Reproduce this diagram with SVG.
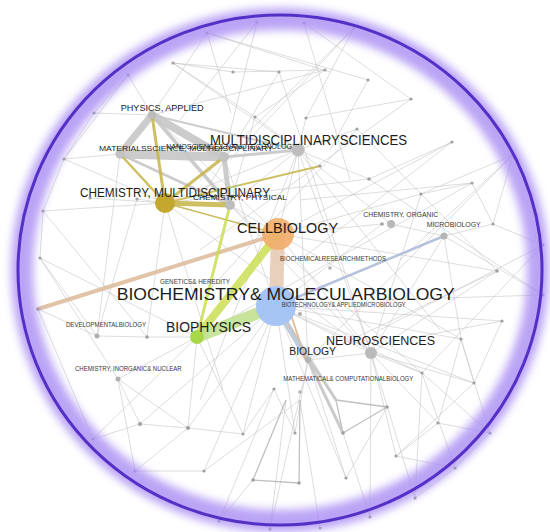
<svg xmlns="http://www.w3.org/2000/svg" width="550" height="532" viewBox="0 0 550 532">
<style>
.e{stroke:#bdbdbd;stroke-width:.7;fill:none;opacity:.75}
.g{stroke:#c6c6c6;fill:none;stroke-linecap:round;opacity:.9}
.n{fill:#a0a0a0}
.lb{font-family:"Liberation Sans",Arial,sans-serif;fill:#1c1c1c}
.sm{font-size:6.6px;fill:#383838}
</style>
<defs>
<filter id="soft" x="-10%" y="-10%" width="120%" height="120%"><feGaussianBlur stdDeviation="4"/></filter>
</defs>
<rect width="550" height="532" fill="#ffffff"/>

<!-- links -->
<g id="connectors">
<g id="thin-links">
<path class="e" d="M207 33L368 80M207 33L330 72M207 33L152 115M207 33L231 113M173 63L279 72M173 63L233 72M173 63L255 117M173 63L298 150M257 22L180 120M257 22L224 157M304 23L411 99M304 23L350 180M354 28L230 160M354 28L200 180M354 28L306 118M128 75L94 113M128 75L152 115M128 75L64 159M233 72L325 70M279 72L200 200M279 72L371 353M325 70L255 117M325 70L152 115M368 80L330 150M411 99L306 118M411 99L200 250M94 113L152 115M94 113L64 159M306 118L298 150M255 117L298 150M255 117L230 205"/>
<path class="e" d="M357 129L200 300M357 129L298 150M452 142L369 179M452 142L300 260M513 155L421 194M513 155L400 260M513 155L493 224M369 179L298 150M369 179L165 203M421 194L278 234M421 194L472 183M472 183L300 200M472 183L493 224M493 224L444 236M493 224L543 245M543 245L380 330M497 271L278 234M497 271L371 353M502 321L400 340M502 321L474 383M543 295L380 300M543 295L444 236"/>
<path class="e" d="M64 159L43 211M64 159L120 154M43 211L40 258M43 211L165 203M40 258L118 379M40 258L97 336M38 309L97 336M38 309L93 439M90 198L165 203M137 199L165 203M137 199L97 336M97 336L147 337M147 337L197 337M147 337L165 203M118 379L197 337M118 379L140 424M118 379L188 428"/>
<path class="e" d="M298 150L278 234M298 150L371 353M298 150L308 360M298 150L230 205M298 150L391 224M298 150L165 203M298 150L440 330M298 150L200 400M391 224L444 236M382 224L278 234M382 224L276 306M444 236L371 353M444 236L461 339M278 234L461 339M278 234L371 353M276 306L371 353M276 306L422 373M276 306L474 383M276 306L461 339M276 306L188 428M276 306L140 424M276 306L243 434M276 306L295 433M197 337L243 434M197 337L188 428M165 203L223 390M165 203L278 234M230 205L278 234M230 205L371 353M308 360L371 353M308 360L295 433M308 360L343 433M371 353L422 373M371 353L474 383M371 353L438 423M371 353L396 456M422 373L490 433M422 373L455 468M461 339L474 383"/>
<path class="e" d="M93 439L140 424M135 471L188 428M135 471L204 471M140 424L188 428M188 428L243 434M204 471L276 306M204 471L300 400M219 521L253 480M270 529L286 400M320 528L300 400M370 517L343 433M415 498L455 468M415 498L371 353M396 456L438 423M346 478L308 360M346 478L276 306M438 423L490 433M490 433L455 468M455 468L396 456"/>
<path class="e" d="M357 129L497 271M369 179L543 295M421 194L371 353M452 142L278 234M513 155L308 360M472 183L197 337M497 271L308 360M502 321L276 306M543 245L422 373M461 339L438 423M474 383L396 456M230 205L422 373M165 203L371 353M152 115L278 234M120 154L97 336M224 157L276 306M64 159L165 203M43 211L147 337M40 258L197 337M93 439L197 337M135 471L118 379M219 521L274 389M270 529L308 360M370 517L371 353M415 498L422 373M490 433L461 339M346 478L387 407M243 434L274 389M295 433L274 389"/>
<path class="e" style="stroke:#ababab;stroke-width:1.3" d="M253 480L299 483M253 480L286 400M299 483L300 400M308 360L336 400L343 433L387 407L336 400"/>
</g>
<g id="strong-links">
<!-- physics / materials cluster -->
<path class="g" stroke-width="7" d="M152 115L120 154"/>
<path class="g" stroke-width="8" d="M152 115L224 157"/>
<path class="g" stroke-width="9" d="M120 154L224 157"/>
<path class="g" stroke-width="5" d="M224 157L230 205"/>
<path class="g" stroke-width="3.5" d="M152 115L230 205"/>
<path class="g" stroke-width="2.5" d="M120 154L230 205"/>
<path class="g" stroke-width="3" d="M224 157L298 150"/>
<path class="g" stroke-width="2" d="M152 115L298 150"/>
<!-- chemistry, multidisciplinary -->
<g stroke="#c7b548" fill="none" stroke-linecap="round" opacity=".85">
<path stroke-width="3" d="M165 203L152 115"/>
<path stroke-width="2.5" d="M165 203L120 154"/>
<path stroke-width="3" d="M165 203L224 157"/>
<path stroke-width="5" d="M165 203L230 205"/>
<path stroke-width="2" d="M165 203L320 166"/>
<path stroke-width="1.5" d="M165 203L278 234"/>
</g>
<!-- cell biology / biochemistry core -->
<path stroke="#e6c8b2" stroke-width="14" opacity=".85" stroke-linecap="round" d="M278 234L276 306"/>
<path stroke="#dcb99a" stroke-width="4" opacity=".85" stroke-linecap="round" d="M278 234L38 309"/>
<path stroke="#c9dc4c" stroke-width="3" opacity=".8" stroke-linecap="round" d="M230 205L197 337"/>
<path stroke="#cddf55" stroke-width="8" opacity=".85" stroke-linecap="round" d="M278 234L197 337"/>
<path stroke="#bfe08a" stroke-width="12" opacity=".85" stroke-linecap="round" d="M197 337L276 306"/>
<path stroke="#a9b8d8" stroke-width="2.5" opacity=".85" stroke-linecap="round" d="M276 306L444 236"/>
<path stroke="#b6c4da" stroke-width="6" opacity=".85" stroke-linecap="round" d="M276 306L308 360"/>
<path stroke="#deaf80" stroke-width="1.8" opacity=".85" stroke-linecap="round" d="M290 312L306 360"/>
<path class="g" stroke-width="3" d="M276 306L336 400M308 360L343 433"/>
</g>
</g>

<!-- small unlabeled items -->
<g id="m01"><circle class="n" cx="207" cy="33" r="1.6"/></g>
<g id="m02"><circle class="n" cx="257" cy="22" r="1.6"/></g>
<g id="m03"><circle class="n" cx="304" cy="23" r="1.6"/></g>
<g id="m04"><circle class="n" cx="354" cy="28" r="1.6"/></g>
<g id="m05"><circle class="n" cx="128" cy="75" r="1.6"/></g>
<g id="m06"><circle class="n" cx="173" cy="63" r="1.6"/></g>
<g id="m07"><circle class="n" cx="233" cy="72" r="1.6"/></g>
<g id="m08"><circle class="n" cx="279" cy="72" r="1.6"/></g>
<g id="m09"><circle class="n" cx="325" cy="70" r="1.6"/></g>
<g id="m10"><circle class="n" cx="368" cy="80" r="1.6"/></g>
<g id="m11"><circle class="n" cx="411" cy="99" r="1.6"/></g>
<g id="m12"><circle class="n" cx="94" cy="113" r="1.6"/></g>
<g id="m13"><circle class="n" cx="255" cy="117" r="1.6"/></g>
<g id="m14"><circle class="n" cx="306" cy="118" r="1.6"/></g>
<g id="m15"><circle class="n" cx="357" cy="129" r="1.6"/></g>
<g id="m16"><circle class="n" cx="452" cy="142" r="1.6"/></g>
<g id="m17"><circle class="n" cx="513" cy="155" r="1.6"/></g>
<g id="m18"><circle class="n" cx="369" cy="179" r="1.8"/></g>
<g id="m19"><circle class="n" cx="421" cy="194" r="1.6"/></g>
<g id="m20"><circle class="n" cx="472" cy="183" r="1.6"/></g>
<g id="m21"><circle class="n" cx="493" cy="224" r="1.6"/></g>
<g id="m22"><circle class="n" cx="543" cy="245" r="1.6"/></g>
<g id="m23"><circle class="n" cx="497" cy="271" r="1.8"/></g>
<g id="m24"><circle class="n" cx="502" cy="321" r="1.6"/></g>
<g id="m25"><circle class="n" cx="64" cy="159" r="1.6"/></g>
<g id="m26"><circle class="n" cx="43" cy="211" r="1.6"/></g>
<g id="m27"><circle class="n" cx="40" cy="258" r="1.6"/></g>
<g id="m28"><circle class="n" cx="38" cy="309" r="1.6"/></g>
<g id="m29"><circle class="n" cx="147" cy="337" r="1.8"/></g>
<g id="m30"><circle class="n" cx="320" cy="166" r="1.6"/></g>
<g id="m31"><circle class="n" cx="382" cy="224" r="1.8"/></g>
<g id="m32"><circle class="n" cx="422" cy="373" r="1.6"/></g>
<g id="m33"><circle class="n" cx="461" cy="339" r="1.6"/></g>
<g id="m34"><circle class="n" cx="474" cy="383" r="1.6"/></g>
<g id="m35"><circle class="n" cx="274" cy="389" r="1.6"/></g>
<g id="m36"><circle class="n" cx="93" cy="439" r="1.6"/></g>
<g id="m37"><circle class="n" cx="140" cy="424" r="2"/></g>
<g id="m38"><circle class="n" cx="188" cy="428" r="2"/></g>
<g id="m39"><circle class="n" cx="243" cy="434" r="1.6"/></g>
<g id="m40"><circle class="n" cx="295" cy="433" r="1.6"/></g>
<g id="m41"><circle class="n" cx="343" cy="433" r="1.8"/></g>
<g id="m42"><circle class="n" cx="387" cy="407" r="1.8"/></g>
<g id="m43"><circle class="n" cx="438" cy="423" r="1.6"/></g>
<g id="m44"><circle class="n" cx="490" cy="433" r="1.6"/></g>
<g id="m45"><circle class="n" cx="455" cy="468" r="1.6"/></g>
<g id="m46"><circle class="n" cx="396" cy="456" r="1.6"/></g>
<g id="m47"><circle class="n" cx="346" cy="478" r="1.6"/></g>
<g id="m48"><circle class="n" cx="299" cy="483" r="1.8"/></g>
<g id="m49"><circle class="n" cx="253" cy="480" r="1.8"/></g>
<g id="m50"><circle class="n" cx="204" cy="471" r="1.6"/></g>
<g id="m51"><circle class="n" cx="135" cy="471" r="1.6"/></g>
<g id="m52"><circle class="n" cx="415" cy="498" r="1.6"/></g>
<g id="m53"><circle class="n" cx="370" cy="517" r="1.6"/></g>
<g id="m54"><circle class="n" cx="320" cy="528" r="1.6"/></g>
<g id="m55"><circle class="n" cx="270" cy="529" r="1.6"/></g>
<g id="m56"><circle class="n" cx="219" cy="521" r="1.6"/></g>
<g id="m57"><circle class="n" cx="543" cy="295" r="1.6"/></g>
<g id="m58"><circle class="n" cx="90" cy="198" r="1.6"/></g>
<g id="m59"><circle class="n" cx="137" cy="199" r="1.6"/></g>

<!-- labeled items -->
<g id="physics-applied"><circle cx="152" cy="115" r="4" fill="#bcbcbc"/><text class="lb" x="120.7" y="110.7" font-size="9.5" textLength="83" lengthAdjust="spacingAndGlyphs">PHYSICS, APPLIED</text></g>
<g id="materials-science"><circle cx="120" cy="154" r="4.5" fill="#c2c2c2"/><text class="lb" x="99" y="151" font-size="7.6" fill="#2a2a2a" textLength="174" lengthAdjust="spacingAndGlyphs">MATERIALSSCIENCE, MULTIDISCIPLINARY</text></g>
<g id="nanoscience"><circle cx="224" cy="157" r="5" fill="#c2c2c2"/><text class="lb" x="166" y="148.5" font-size="7" fill="#3a3a3a" textLength="131" lengthAdjust="spacingAndGlyphs">NANOSCIENCE&amp; NANOTECHNOLOGY</text></g>
<g id="multidisciplinary-sciences"><circle cx="298" cy="150" r="6.5" fill="#bdbdbd"/><text class="lb" x="210" y="145" font-size="14" textLength="197" lengthAdjust="spacingAndGlyphs">MULTIDISCIPLINARYSCIENCES</text></g>
<g id="chemistry-physical"><circle cx="230" cy="205" r="5" fill="#bdbdbd"/><text class="lb" x="193" y="200" font-size="8" fill="#2e2e2e" textLength="94" lengthAdjust="spacingAndGlyphs">CHEMISTRY, PHYSICAL</text></g>
<g id="chemistry-multidisciplinary"><circle cx="165" cy="203" r="10" fill="#c3a72e"/><text class="lb" x="80" y="197.3" font-size="12.5" textLength="190" lengthAdjust="spacingAndGlyphs">CHEMISTRY, MULTIDISCIPLINARY</text></g>
<g id="cell-biology"><circle cx="278" cy="234" r="16" fill="#f1ad6c" opacity=".9"/><text class="lb" x="237" y="233" font-size="14.5" textLength="101" lengthAdjust="spacingAndGlyphs">CELLBIOLOGY</text></g>
<g id="chemistry-organic"><circle cx="391" cy="224" r="4" fill="#b8b8b8"/><text class="lb sm" x="363.3" y="216.7" textLength="75" lengthAdjust="spacingAndGlyphs">CHEMISTRY, ORGANIC</text></g>
<g id="microbiology"><circle cx="444" cy="236" r="3.5" fill="#b4b4b4"/><text class="lb sm" x="426.7" y="226.7" textLength="54" lengthAdjust="spacingAndGlyphs">MICROBIOLOGY</text></g>
<g id="biochemical-research-methods"><circle cx="330" cy="268" r="1.8" fill="#b0b0b0"/><text class="lb sm" x="280" y="260.7" textLength="106" lengthAdjust="spacingAndGlyphs">BIOCHEMICALRESEARCHMETHODS</text></g>
<g id="genetics-heredity"><circle cx="196" cy="290" r="1.8" fill="#b0b0b0"/><text class="lb sm" x="160" y="284" textLength="70" lengthAdjust="spacingAndGlyphs">GENETICS&amp; HEREDITY</text></g>
<g id="biophysics"><circle cx="197" cy="337" r="7" fill="#a8d84a"/><text class="lb" x="166" y="331.7" font-size="14" textLength="85" lengthAdjust="spacingAndGlyphs">BIOPHYSICS</text></g>
<g id="biochemistry-molecular-biology"><circle cx="276" cy="306" r="20" fill="#a6c4f4"/><text class="lb" x="116.7" y="300" font-size="17" textLength="338" lengthAdjust="spacingAndGlyphs">BIOCHEMISTRY&amp; MOLECULARBIOLOGY</text></g>
<g id="biotechnology"><circle cx="300" cy="314" r="2" fill="#b0b0b0"/><text class="lb sm" x="281.7" y="306.7" textLength="124" lengthAdjust="spacingAndGlyphs">BIOTECHNOLOGY&amp; APPLIEDMICROBIOLOGY</text></g>
<g id="developmental-biology"><circle cx="97" cy="336" r="2.5" fill="#b0b0b0"/><text class="lb sm" x="66" y="326.7" textLength="80" lengthAdjust="spacingAndGlyphs">DEVELOPMENTALBIOLOGY</text></g>
<g id="neurosciences"><circle cx="371" cy="353" r="6" fill="#bababa"/><text class="lb" x="326" y="345" font-size="12.5" textLength="109" lengthAdjust="spacingAndGlyphs">NEUROSCIENCES</text></g>
<g id="biology"><circle cx="308" cy="360" r="3" fill="#b4b4b4"/><text class="lb" x="289.3" y="355" font-size="11" textLength="46.7" lengthAdjust="spacingAndGlyphs">BIOLOGY</text></g>
<g id="chemistry-inorganic"><circle cx="118" cy="379" r="2.5" fill="#b0b0b0"/><text class="lb sm" x="75" y="371" textLength="106.7" lengthAdjust="spacingAndGlyphs">CHEMISTRY, INORGANIC&amp; NUCLEAR</text></g>
<g id="mathematical-biology"><circle cx="300" cy="392" r="1.8" fill="#b0b0b0"/><text class="lb sm" x="283.3" y="381" textLength="130" lengthAdjust="spacingAndGlyphs">MATHEMATICAL&amp; COMPUTATIONALBIOLOGY</text></g>

<!-- framing ring -->
<g id="ring">
<ellipse cx="280" cy="270" rx="258" ry="251" fill="none" stroke="#a98df3" stroke-width="22" opacity=".8" filter="url(#soft)"/>
<ellipse cx="280" cy="270" rx="262" ry="255" fill="none" stroke="#5430c6" stroke-width="3"/>
</g>
</svg>
